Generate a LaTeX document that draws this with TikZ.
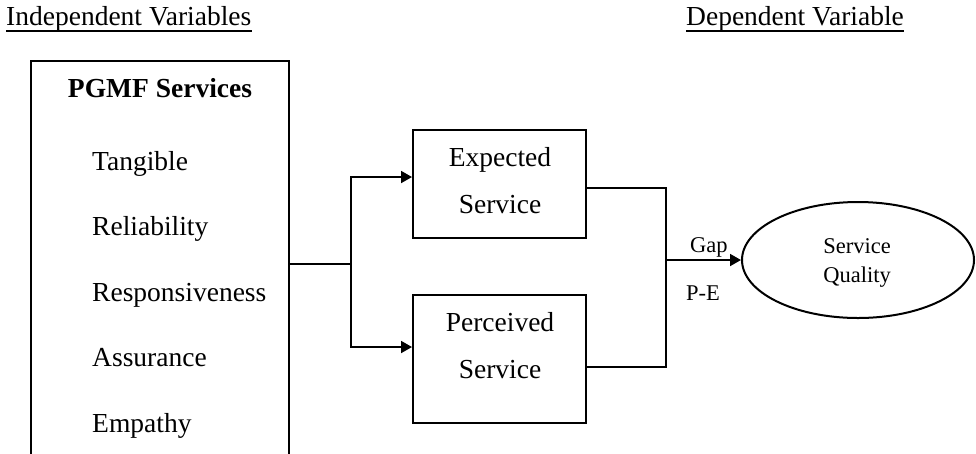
\documentclass[tikz,border=0pt]{standalone}
\usepackage{fontspec}
\setmainfont{Liberation Serif}
\usetikzlibrary{arrows.meta,shapes.geometric}
\begin{document}
\begin{tikzpicture}[x=1pt,y=-1pt,
  lbl/.style={inner sep=0pt,anchor=base west,font=\fontsize{27.5}{30}\selectfont},
  clbl/.style={inner sep=0pt,anchor=base,font=\fontsize{27.5}{30}\selectfont},
  slbl/.style={inner sep=0pt,anchor=base west,font=\fontsize{22.5}{25}\selectfont},
  box/.style={draw,line width=2pt,rectangle,inner sep=0pt},
  conn/.style={line width=1.8pt},
  arr/.style={line width=1.8pt,-{Triangle[length=11pt,width=12pt]}}]
\useasboundingbox (0,0) rectangle (976,453);
% headers
\node[lbl] (ind) at (6,25) {Independent Variables};
\node[lbl] (dep) at (686,25) {Dependent Variable};
\draw[line width=1.3pt] ([yshift=-6pt]ind.base west) -- ([yshift=-6pt]ind.base east);
\draw[line width=1.3pt] ([yshift=-6pt]dep.base west) -- ([yshift=-6pt]dep.base east);
% left box (cut off at the bottom)
\node[box,minimum width=258pt,minimum height=404pt] (svc) at (160,263) {};
\node[clbl,font=\fontsize{27.5}{30}\selectfont\bfseries] (pg) at (160,97) {PGMF Services};
\node[lbl] (t1) at (92,170) {Tangible};
\node[lbl] (t2) at (92,235.5) {Reliability};
\node[lbl] (t3) at (92,301) {Responsiveness};
\node[lbl] (t4) at (92,366.5) {Assurance};
\node[lbl] (t5) at (92,432) {Empathy};
% middle boxes
\node[box,minimum width=173pt,minimum height=108pt] (exp) at (499.5,184) {};
\node[clbl] (e1) at (500,166) {Expected};
\node[clbl] (e2) at (500,213) {Service};
\node[box,minimum width=173pt,minimum height=128pt] (per) at (499.5,359) {};
\node[clbl] (p1) at (500,331) {Perceived};
\node[clbl] (p2) at (500,378) {Service};
% ellipse
\node[draw,ellipse,line width=2pt,minimum width=232pt,minimum height=116pt,inner sep=0pt] (sq) at (858,260) {};
\node[inner sep=0pt,anchor=base,font=\fontsize{22.5}{25}\selectfont] (sq1) at (857,253) {Service};
\node[inner sep=0pt,anchor=base,font=\fontsize{22.5}{25}\selectfont] (sq2) at (857,282) {Quality};
% gap labels
\node[slbl] (gap) at (690,252) {Gap};
\node[slbl] (pe) at (686,300) {P-E};
% connectors
\coordinate (j1) at (351,264);
\coordinate (j2) at (666,260);
\draw[conn] (svc.east |- j1) -- (j1);
\draw[arr] (j1) |- ([yshift=7pt]exp.west);
\draw[arr] (j1) |- ([yshift=12pt]per.west);
\draw[conn] ([yshift=-4pt]exp.east) -| (j2);
\draw[conn] ([yshift=-8pt]per.east) -| (j2);
\draw[arr] (j2) -- (sq.west);
\end{tikzpicture}
\end{document}
